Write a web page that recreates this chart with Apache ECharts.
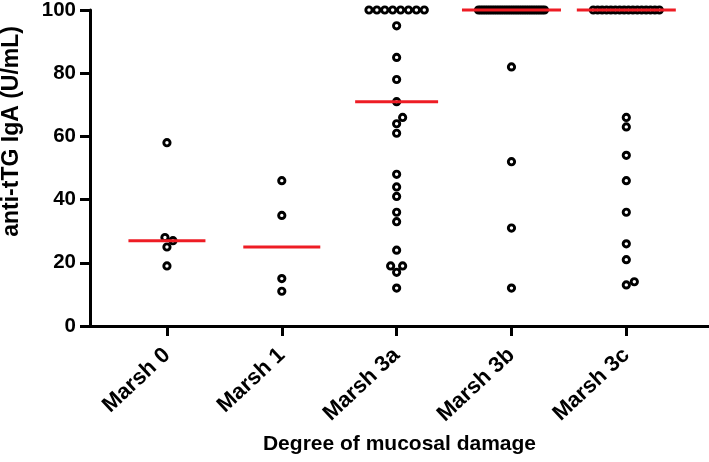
<!DOCTYPE html>
<html><head><meta charset="utf-8">
<script src="https://cdn.jsdelivr.net/npm/echarts@6/dist/echarts.min.js"></script>
<style>html,body{margin:0;padding:0;background:#fff}#c{width:709px;height:462px}</style>
</head><body><div id="c"></div>
<script>
// ---- data ----
const categories = ["Marsh 0", "Marsh 1", "Marsh 3a", "Marsh 3b", "Marsh 3c"];
const marsh0 = [58, 28, 27, 25, 19];
const marsh1 = [46, 35, 15, 11];
const marsh3a = [100, 100, 100, 100, 100, 100, 100, 100, 95, 85, 78, 71, 66, 64, 61, 48, 44, 41, 36, 33, 24, 19, 19, 17, 12];
const marsh3b = [100, 100, 100, 100, 100, 100, 100, 100, 100, 100, 100, 100, 100, 100, 100,
                 100, 100, 100, 100, 100, 100, 100, 100, 100, 100, 100, 100, 100, 100, 100, 82, 52, 31, 12];
const marsh3c = [100, 100, 100, 100, 100, 100, 100, 100, 100, 100, 100, 100, 100, 100, 100, 100, 66, 63, 54, 46, 36, 26, 21, 14, 13];
const medians = [27, 25, 71, 100, 100];
const yAxisTitle = "anti-tTG IgA (U/mL)";
const xAxisTitle = "Degree of mucosal damage";

const groups = [marsh0, marsh1, marsh3a, marsh3b, marsh3c];

// ---- layout ----
const W = 709, H = 462;
const GRID = { left: 90, right: 0, top: 10, bottom: 136 };
const X_MIN = 0.33, X_MAX = 5.72, Y_MIN = 0, Y_MAX = 100;
const pxPerX = (W - GRID.left - GRID.right) / (X_MAX - X_MIN);
const pxPerY = (H - GRID.top - GRID.bottom) / (Y_MAX - Y_MIN);
const D = 8.5, MAX_ROW = 66;
const FONT = "'Liberation Sans', Arial, Helvetica, sans-serif";

// beeswarm-style horizontal spreading (pixel offsets), computed from values
function swarm(values) {
  const counts = {};
  values.forEach(v => counts[v] = (counts[v] || 0) + 1);
  const placed = [];
  const res = new Array(values.length);
  const rowDone = {};
  values.forEach(v => {
    if (counts[v] >= 3 && !rowDone[v]) {
      rowDone[v] = true;
      const idx = values.map((u, j) => u === v ? j : -1).filter(j => j >= 0);
      const n = idx.length;
      const s = Math.min(7.9, MAX_ROW / (n - 1));
      idx.forEach((j, k) => {
        const off = (k - (n - 1) / 2) * s;
        res[j] = off;
        placed.push({ x: off, y: v * pxPerY });
      });
    }
  });
  const order = values.map((v, i) => i).filter(i => counts[values[i]] < 3)
    .sort((a, b) => values[a] - values[b]);
  order.forEach(i => {
    const y = values[i] * pxPerY;
    let off = 0;
    outer:
    for (let t = 0; t < 80; t += 0.5) {
      const cands = t === 0 ? [0] : [t, -t];
      for (const c of cands) {
        if (placed.every(p => Math.hypot(p.x - c, p.y - y) >= D)) { off = c; break outer; }
      }
    }
    res[i] = off;
    placed.push({ x: off, y });
  });
  return res;
}

const points = [];
const medianData = [];
groups.forEach((vals, g) => {
  const offs = swarm(vals);
  let maxOff = 0;
  vals.forEach((v, i) => {
    points.push([g + 1 + offs[i] / pxPerX, v]);
    maxOff = Math.max(maxOff, Math.abs(offs[i]));
  });
  medianData.push([g + 1, medians[g], Math.max(38.5, maxOff * 1.5)]);
});

const chart = echarts.init(document.getElementById('c'), null, { renderer: 'canvas' });
chart.setOption({
  backgroundColor: '#fff',
  animation: false,
  grid: { left: GRID.left, right: GRID.right, top: GRID.top, bottom: GRID.bottom,
          containLabel: false, outerBoundsMode: 'none' },
  graphic: [{
    type: 'text', left: 0, top: 26, rotation: Math.PI / 2,
    style: { text: yAxisTitle, fontFamily: FONT, fontWeight: 'bold', fontSize: 23, fill: '#000' }
  }],
  xAxis: {
    type: 'value', min: X_MIN, max: X_MAX,
    name: xAxisTitle, nameLocation: 'middle', nameGap: 108,
    nameTextStyle: { fontFamily: FONT, fontWeight: 'bold', fontSize: 21, color: '#000' },
    axisLine: { show: true, onZero: false, lineStyle: { color: '#000', width: 3 } },
    axisTick: { show: true, length: 10, inside: false, lineStyle: { color: '#000', width: 3 }, customValues: [1, 2, 3, 4, 5] },
    axisLabel: {
      customValues: [1, 2, 3, 4, 5], rotate: 43, margin: 26,
      fontFamily: FONT, fontWeight: 'bold', fontSize: 22, color: '#000',
      formatter: v => categories[Math.round(v) - 1] || ''
    },
    splitLine: { show: false }
  },
  yAxis: {
    type: 'value', min: Y_MIN, max: Y_MAX, interval: 20,
    axisLine: { show: true, lineStyle: { color: '#000', width: 3 } },
    axisTick: { show: true, length: 10, inside: false, lineStyle: { color: '#000', width: 3 } },
    axisLabel: { margin: 14, fontFamily: FONT, fontWeight: 'bold', fontSize: 20.5, color: '#000' },
    splitLine: { show: false }
  },
  series: [
    {
      type: 'scatter', data: points, clip: false, z: 2,
      symbol: 'circle', symbolSize: 6.3,
      itemStyle: { color: 'rgba(255,255,255,0)', borderColor: '#000', borderWidth: 2.9, opacity: 1 }
    },
    {
      type: 'custom', data: medianData, z: 3, clip: false,
      renderItem: (params, api) => {
        const p = api.coord([api.value(0), api.value(1)]);
        const half = api.value(2);
        return { type: 'line', shape: { x1: p[0] - half, y1: p[1], x2: p[0] + half, y2: p[1] },
                 style: { stroke: '#ee1c24', lineWidth: 3 } };
      }
    }
  ]
});
</script></body></html>
